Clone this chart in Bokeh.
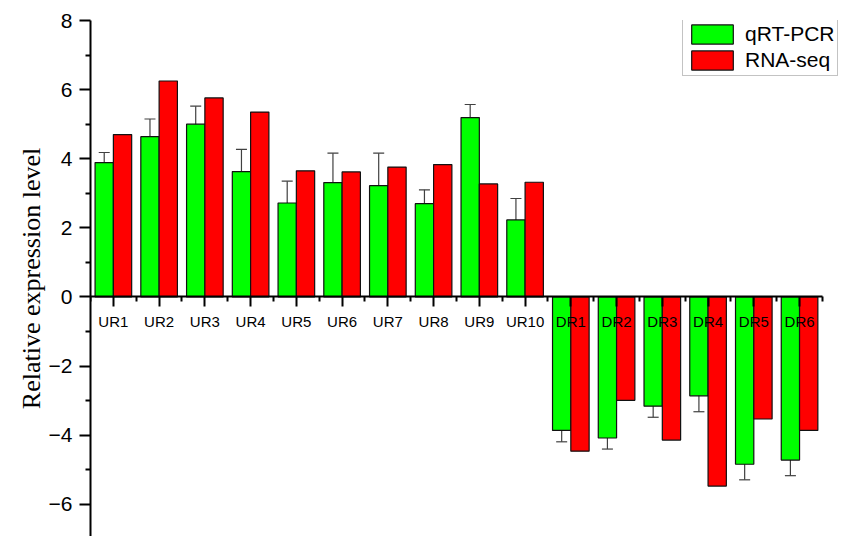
from bokeh.plotting import figure
from bokeh.models import (ColumnDataSource, LinearAxis, FixedTicker, Whisker,
                          TeeHead, Legend, LegendItem, Range1d)
from bokeh.embed import file_html
from bokeh.resources import INLINE

# Gene groups and measured expression levels
genes = ["UR1", "UR2", "UR3", "UR4", "UR5", "UR6", "UR7", "UR8", "UR9", "UR10",
         "DR1", "DR2", "DR3", "DR4", "DR5", "DR6"]
qpcr = [3.89, 4.64, 5.00, 3.63, 2.72, 3.31, 3.22, 2.70, 5.19, 2.23,
        -3.86, -4.08, -3.16, -2.86, -4.84, -4.72]
qpcr_err = [0.29, 0.51, 0.52, 0.64, 0.63, 0.85, 0.94, 0.40, 0.38, 0.62,
            0.33, 0.32, 0.32, 0.46, 0.45, 0.45]
rnaseq = [4.70, 6.25, 5.76, 5.35, 3.65, 3.62, 3.76, 3.83, 3.27, 3.32,
          -4.46, -2.99, -4.14, -5.47, -3.53, -3.86]
y_ticks = [-6, -4, -2, 0, 2, 4, 6, 8]

pos = list(range(1, len(genes) + 1))
bar_w = 0.4
src = ColumnDataSource(dict(
    xq=[p - bar_w / 2 for p in pos],
    xr=[p + bar_w / 2 for p in pos],
    q=qpcr,
    r=rnaseq,
    up=[v + e for v, e in zip(qpcr, qpcr_err)],
    lo=[v - e for v, e in zip(qpcr, qpcr_err)],
))

x_lo, x_hi = 0.5, len(genes) + 0.5
# the frame runs on past the last group so the legend has room at the right
p = figure(width=848, height=536, output_backend="svg", toolbar_location=None,
           x_range=Range1d(x_lo, x_hi + 0.57), y_range=Range1d(-6.93, 8),
           x_axis_location=None, y_axis_location=None,
           min_border_left=90, min_border_right=0, min_border_top=20,
           min_border_bottom=0)
p.outline_line_color = None
p.xgrid.visible = False
p.ygrid.visible = False
p.background_fill_color = "white"

green = p.vbar(x="xq", top="q", bottom=0, width=bar_w, source=src,
               fill_color="#00FF00", line_color="#111111", line_width=1.2)
red = p.vbar(x="xr", top="r", bottom=0, width=bar_w, source=src,
             fill_color="#FF0000", line_color="#111111", line_width=1.2)

p.add_layout(Whisker(base="xq", upper="up", lower="lo", source=src,
                     line_color="#404040", line_width=1.2,
                     upper_head=TeeHead(size=11, line_color="#404040", line_width=1.2),
                     lower_head=TeeHead(size=11, line_color="#404040", line_width=1.2)))

# y axis on the left
yaxis = LinearAxis(ticker=FixedTicker(ticks=y_ticks,
                                      minor_ticks=[t + 1 for t in y_ticks[:-1]] + [-7]),
                   axis_label="Relative expression level")
yaxis.major_label_overrides = {t: (str(t) if t >= 0 else "\u2212" + str(-t)) for t in y_ticks}
yaxis.axis_line_width = 2
yaxis.major_tick_line_width = 2
yaxis.minor_tick_line_width = 2
yaxis.major_tick_out = 11
yaxis.major_tick_in = 0
yaxis.minor_tick_out = 5
yaxis.minor_tick_in = 0
yaxis.major_label_standoff = 7
yaxis.major_label_text_font = "Liberation Sans"
yaxis.major_label_text_font_size = "21px"
yaxis.major_label_text_color = "black"
yaxis.axis_label_text_font = "Liberation Serif"
yaxis.axis_label_text_font_style = "normal"
yaxis.axis_label_text_font_size = "26px"
yaxis.axis_label_text_color = "black"
yaxis.axis_label_standoff = 0
p.add_layout(yaxis, "left")

# category axis drawn across the zero line
xaxis = LinearAxis(ticker=FixedTicker(ticks=pos,
                                      minor_ticks=[x - 0.5 for x in pos] + [x_hi]),
                   fixed_location=0, bounds=(x_lo, x_hi))
xaxis.major_label_overrides = {x: g for x, g in zip(pos, genes)}
xaxis.axis_line_width = 2
xaxis.major_tick_line_width = 2
xaxis.minor_tick_line_width = 2
xaxis.major_tick_out = 10
xaxis.major_tick_in = 0
xaxis.minor_tick_out = 5
xaxis.minor_tick_in = 0
xaxis.major_label_standoff = 6
xaxis.major_label_text_font = "Liberation Sans"
xaxis.major_label_text_font_size = "15px"
xaxis.major_label_text_color = "black"
p.add_layout(xaxis, "below")

legend = Legend(items=[LegendItem(label="qRT-PCR", renderers=[green]),
                       LegendItem(label="RNA-seq", renderers=[red])],
                location=(592, 460), orientation="vertical",
                glyph_width=52, glyph_height=24, label_height=24,
                label_standoff=7, spacing=2, padding=3, margin=0,
                label_text_font="Liberation Sans", label_text_font_size="21px",
                label_text_color="black",
                border_line_color="#888888", border_line_width=1.5,
                background_fill_color="white", background_fill_alpha=1)
p.add_layout(legend, "center")

open("out.html", "w").write(file_html(p, INLINE))
